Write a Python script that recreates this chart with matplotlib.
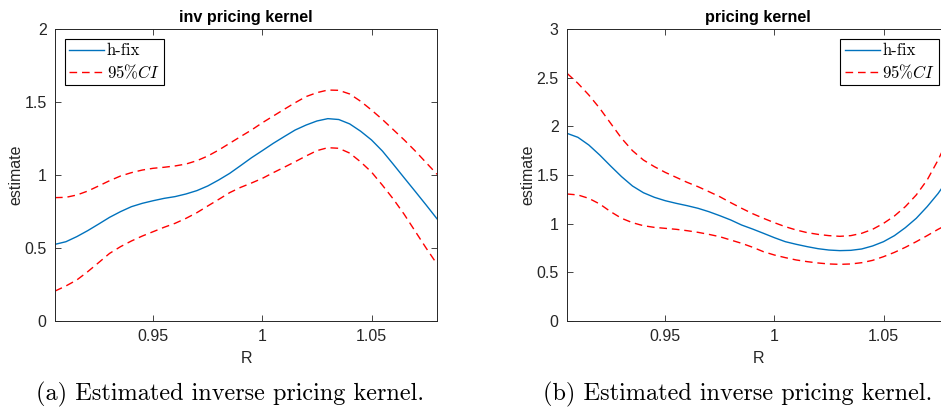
import numpy as np
import matplotlib
matplotlib.use("Agg")
import matplotlib.pyplot as plt

plt.rcParams["mathtext.fontset"] = "cm"
plt.rcParams["font.family"] = ["Liberation Sans", "DejaVu Sans"]

# Gross return grid (step 0.005)
R = np.round(np.arange(0.905, 1.0801, 0.005), 3)

# Inverse pricing kernel estimate and 95% band
inv_est = [0.525, 0.543, 0.578, 0.619, 0.664, 0.710, 0.749, 0.783, 0.806, 0.824,
           0.840, 0.852, 0.870, 0.893, 0.925, 0.966, 1.011, 1.064, 1.118, 1.167,
           1.217, 1.263, 1.308, 1.342, 1.370, 1.386, 1.380, 1.350, 1.300, 1.240,
           1.164, 1.073, 0.980, 0.888, 0.795, 0.700]
inv_up = [0.845, 0.847, 0.863, 0.890, 0.925, 0.961, 0.993, 1.016, 1.034, 1.046,
          1.053, 1.062, 1.075, 1.098, 1.130, 1.171, 1.217, 1.263, 1.308, 1.358,
          1.404, 1.450, 1.495, 1.537, 1.564, 1.582, 1.580, 1.555, 1.505, 1.445,
          1.380, 1.310, 1.240, 1.165, 1.085, 1.005]
inv_lo = [0.205, 0.240, 0.281, 0.338, 0.400, 0.463, 0.509, 0.548, 0.582, 0.612,
          0.642, 0.669, 0.703, 0.742, 0.788, 0.833, 0.879, 0.915, 0.945, 0.977,
          1.016, 1.053, 1.091, 1.130, 1.167, 1.187, 1.183, 1.150, 1.090, 1.020,
          0.930, 0.835, 0.730, 0.615, 0.500, 0.390]

# Pricing kernel estimate and 95% band
pk_est = [1.928, 1.887, 1.808, 1.705, 1.592, 1.483, 1.387, 1.318, 1.271, 1.236,
          1.209, 1.185, 1.158, 1.123, 1.082, 1.038, 0.986, 0.945, 0.901, 0.856,
          0.815, 0.788, 0.764, 0.743, 0.729, 0.723, 0.726, 0.740, 0.771, 0.815,
          0.877, 0.959, 1.055, 1.175, 1.310, 1.470]
pk_up = [2.545, 2.442, 2.322, 2.185, 2.031, 1.877, 1.750, 1.654, 1.586, 1.527,
         1.476, 1.425, 1.380, 1.329, 1.277, 1.216, 1.158, 1.103, 1.055, 1.010,
         0.969, 0.935, 0.908, 0.890, 0.877, 0.870, 0.877, 0.901, 0.942, 1.003,
         1.079, 1.175, 1.295, 1.449, 1.654, 1.890]
pk_lo = [1.305, 1.295, 1.260, 1.202, 1.123, 1.055, 1.010, 0.979, 0.962, 0.952,
         0.942, 0.928, 0.911, 0.890, 0.866, 0.832, 0.798, 0.758, 0.712, 0.678,
         0.651, 0.627, 0.610, 0.596, 0.586, 0.582, 0.586, 0.599, 0.623, 0.661,
         0.705, 0.757, 0.815, 0.877, 0.942, 1.000]

titles = ["inv pricing kernel", "pricing kernel"]
captions = ["(a) Estimated inverse pricing kernel.",
            "(b) Estimated inverse pricing kernel."]
ylims = [(0, 2), (0, 3)]
yticks = [[0, 0.5, 1, 1.5, 2], [0, 0.5, 1, 1.5, 2, 2.5, 3]]
xticks = [0.95, 1, 1.05]

W, H = 941, 411
fig = plt.figure(figsize=(W / 100, H / 100), dpi=100)

axes_px = [(55, 29, 382, 292), (567, 29, 382, 292)]
caption_cx = [230.5, 738]
legend_loc = ["upper left", "upper right"]
series = [(inv_est, inv_up, inv_lo), (pk_est, pk_up, pk_lo)]
edge = "#262626"
dash = (0, (5.5, 3.5))

for i, (x0, y0, w, h) in enumerate(axes_px):
    ax = fig.add_axes([x0 / W, 1 - (y0 + h) / H, w / W, h / H])
    est, up, lo = series[i]
    ax.plot(R, est, color="#0072BD", lw=1.0, label="h-fix")
    ax.plot(R, up, color="red", lw=1.0, ls=dash, label=r"95%$CI$")
    ax.plot(R, lo, color="red", lw=1.0, ls=dash)
    ax.set_xlim(0.905, 1.08)
    ax.set_ylim(*ylims[i])
    ax.set_xticks(xticks)
    ax.set_xticklabels(["0.95", "1", "1.05"])
    ax.set_yticks(yticks[i])
    ax.set_yticklabels([f"{t:g}" for t in yticks[i]])
    ax.tick_params(direction="in", length=4, width=0.6, colors=edge,
                   labelsize=11.5, top=True, right=True, pad=6)
    for s in ax.spines.values():
        s.set_color(edge)
        s.set_linewidth(0.7)
    ax.set_title(titles[i], fontsize=11.6, fontweight="bold", pad=5)
    ax.set_xlabel("R", fontsize=11.5, color=edge, labelpad=5)
    ax.set_ylabel("estimate", fontsize=11.5, color=edge, labelpad=1)
    leg = ax.legend(loc=legend_loc[i], prop={"family": "cmr10", "size": 12},
                    frameon=True, fancybox=False, edgecolor="black",
                    framealpha=1, handlelength=2.1, handletextpad=0.15,
                    borderpad=0.25, labelspacing=0.25, borderaxespad=0.6)
    leg.get_frame().set_linewidth(0.8)
    fig.text(caption_cx[i] / W, 1 - 400 / H, captions[i], ha="center",
             va="baseline", fontsize=17.5, family="cmr10")

fig.savefig("out.png", dpi=100)
